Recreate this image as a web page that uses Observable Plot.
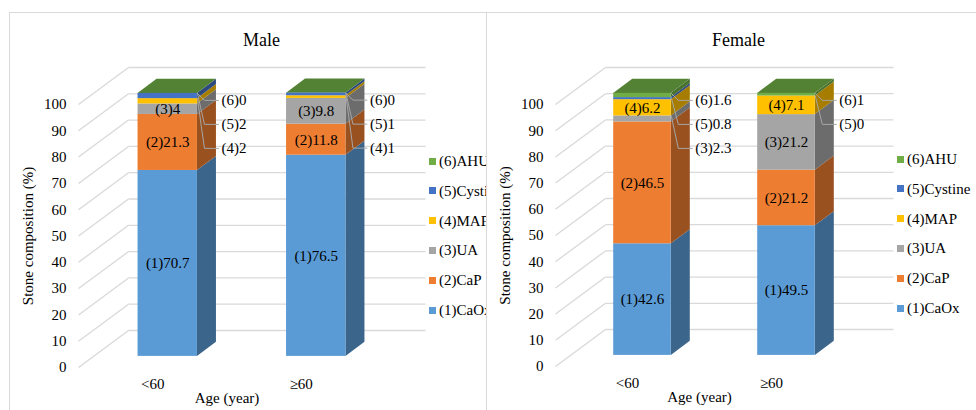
<!DOCTYPE html>
<html>
<head>
<meta charset="utf-8">
<script src="https://cdn.jsdelivr.net/npm/d3@7"></script>
<script src="https://cdn.jsdelivr.net/npm/@observablehq/plot@0.6"></script>
<style>
  body { margin: 0; background: #fff; width: 976px; height: 410px; overflow: hidden; position: relative;
         color: #000; font-family: "Liberation Serif", serif; }
  .panel { position: absolute; top: 12px; height: 420px; border: 1px solid #d9d9d9; box-sizing: border-box;
           overflow: hidden; background: #fff; }
  .panel svg { position: absolute; left: 0; top: 0; }
  .legend { position: absolute; font-size: 15px; white-space: nowrap; font-family: "Liberation Serif", serif; }
  .legend div { position: absolute; left: 0; height: 20px; line-height: 20px; display: flex; align-items: center; }
  .legend span.sw { display: inline-block; width: 7px; height: 7px; margin-right: 3px; }
</style>
</head>
<body>
<div id="male" class="panel" style="left:9px;width:478px"></div>
<div id="female" class="panel" style="left:486px;width:500px"></div>
<script>
// Stone composition (%) by age group, stacked bottom to top
const ageGroups = ["<60", "≥60"];
const components = ["(1)CaOx", "(2)CaP", "(3)UA", "(4)MAP", "(5)Cystine", "(6)AHU"];
const maleUnder60 = [70.7, 21.3, 4, 2, 2, 0];
const maleOver60 = [76.5, 11.8, 9.8, 1, 1, 0];
const femaleUnder60 = [42.6, 46.5, 2.3, 6.2, 0.8, 1.6];
const femaleOver60 = [49.5, 21.2, 21.2, 7.1, 0, 1];
const yTicks = [0, 10, 20, 30, 40, 50, 60, 70, 80, 90, 100];
const palette = ["#5b9bd5", "#ed7d31", "#a5a5a5", "#ffc000", "#4472c4", "#70ad47"];

const FONT = "Liberation Serif";
const codes = components.map(c => c.match(/^\(\d\)/)[0]);
const grid = "#d9d9d9";

function drawPanel(el, {title, series, width, frameRight, frameBottom, legendLeft, legendTop}) {
  const height = 398, marginTop = 91, marginLeft = 68;
  const pxPerCat = (frameRight - marginLeft) / ageGroups.length;
  const pxPerUnit = (frameBottom - marginTop) / 100;
  // oblique depth of the floor, expressed in data units
  const DX = 50 / pxPerCat, DY = 37 / pxPerUnit;
  const wFront = 0.3, wBack = 0.68, half = 0.2;
  const px = p => p / pxPerCat, pv = p => p / pxPerUnit;

  const segs = [];
  series.forEach((vals, g) => {
    let base = 0;
    vals.forEach((v, c) => {
      segs.push({id: `${g}-${c}`, g, c, v, b: base, t: base + v, last: c === vals.length - 1});
      base += v;
    });
  });

  const sides = segs.flatMap(s => [wFront, wBack].map(w => ({
    id: s.id, x: s.g + half + w * DX, y1: s.b + w * DY, y2: s.t + w * DY,
    fill: d3.color(palette[s.c]).darker(1.2).formatHex()
  })));
  const tops = segs.filter(s => s.last).flatMap(s => [wFront, wBack].map(w => ({
    id: s.id, y: s.t + w * DY, x1: s.g - half + w * DX, x2: s.g + half + w * DX,
    fill: d3.color(palette[s.c]).darker(0.8).formatHex()
  })));

  const inside = segs.filter(s => s.v >= 3);
  // small segments get callouts stacked to the right of the bar
  const callouts = [];
  const leaders = [];
  ageGroups.forEach((_, g) => {
    const small = segs.filter(s => s.g === g && s.v < 3).sort((a, b) => b.c - a.c);
    const total = d3.max(segs.filter(s => s.g === g), s => s.t);
    const xr = g + half + wFront * DX;
    small.forEach((s, i) => {
      const ly = total + wFront * DY - pv(7 + 24 * i);
      callouts.push({x: xr + px(24), y: ly, text: `${codes[s.c]}${s.v}`});
      leaders.push({id: s.id, x: xr, y: s.t + wFront * DY});
      leaders.push({id: s.id, x: xr + px(7), y: ly});
      leaders.push({id: s.id, x: xr + px(21), y: ly});
    });
  });

  const chart = Plot.plot({
    width, height, marginTop, marginLeft,
    marginRight: width - frameRight, marginBottom: height - frameBottom,
    x: {type: "linear", domain: [-0.5, ageGroups.length - 0.5], axis: null},
    y: {domain: [0, 100], axis: null},
    color: {type: "identity"},
    style: {fontFamily: FONT, fontSize: "15px", color: "#000", background: "transparent"},
    marks: [
      // back wall and side wall gridlines
      Plot.link(yTicks, {x1: -0.5 + DX, x2: ageGroups.length - 0.5 + DX, y1: d => d + DY, y2: d => d + DY, stroke: grid, strokeWidth: 1.3}),
      Plot.link(yTicks, {x1: -0.5, x2: -0.5 + DX, y1: d => d, y2: d => d + DY, stroke: grid, strokeWidth: 1.3}),
      // bars: side, top and front faces
      Plot.areaY(sides, {x: "x", y1: "y1", y2: "y2", z: "id", fill: "fill"}),
      Plot.areaX(tops, {y: "y", x1: "x1", x2: "x2", z: "id", fill: "fill"}),
      Plot.rect(segs, {x1: s => s.g - half + wFront * DX, x2: s => s.g + half + wFront * DX,
                       y1: s => s.b + wFront * DY, y2: s => s.t + wFront * DY, fill: s => palette[s.c]}),
      Plot.text(inside, {x: s => s.g + wFront * DX, y: s => (s.b + s.t) / 2 + wFront * DY,
                         text: s => `${codes[s.c]}${s.v}`, fill: "#000"}),
      Plot.line(leaders, {x: "x", y: "y", z: "id", stroke: "#a6a6a6", strokeWidth: 1}),
      Plot.text(callouts, {x: "x", y: "y", text: "text", textAnchor: "start", fill: "#000"}),
      Plot.axisY({ticks: yTicks, tickSize: 0, tickPadding: 12, label: null, fontSize: 15}),
      Plot.text(ageGroups, {x: (d, i) => i, y: 0, dy: 17, text: d => d, fill: "#000"}),
      Plot.text(["Age (year)"], {frameAnchor: "bottom", lineAnchor: "middle", dy: 31, fill: "#000"}),
      Plot.text(["Stone composition (%)"], {frameAnchor: "left", textAnchor: "middle", lineAnchor: "middle", dx: -50, rotate: -90, fill: "#000"}),
      Plot.text([title], {frameAnchor: "top-left", textAnchor: "middle", lineAnchor: "middle", dx: 183, dy: -64, fontSize: 18, fill: "#000"})
    ]
  });
  d3.select(chart).selectAll("text").style("font-family", FONT);
  el.appendChild(chart);

  const legend = d3.select(el).append("div").attr("class", "legend")
    .style("left", legendLeft + "px").style("top", legendTop + "px");
  components.slice().reverse().forEach((name, i) => {
    const c = components.indexOf(name);
    const row = legend.append("div").style("top", (i * 29.8) + "px");
    row.append("span").attr("class", "sw").style("background", palette[c]);
    row.append("span").text(name);
  });
}

drawPanel(document.getElementById("male"), {
  title: "Male", series: [maleUnder60, maleOver60],
  width: 476, frameRight: 365, frameBottom: 354, legendLeft: 419, legendTop: 138
});
drawPanel(document.getElementById("female"), {
  title: "Female", series: [femaleUnder60, femaleOver60],
  width: 498, frameRight: 356, frameBottom: 353, legendLeft: 410, legendTop: 136
});
</script>
</body>
</html>
